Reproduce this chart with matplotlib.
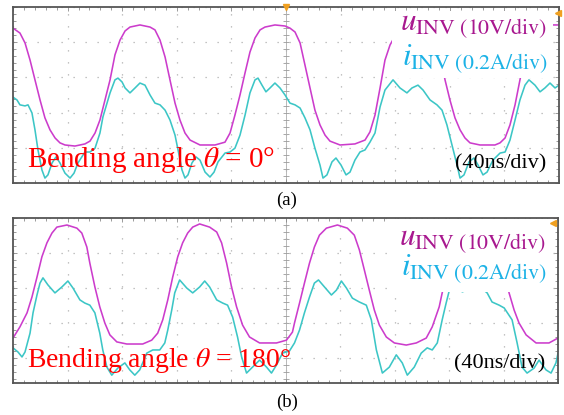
import numpy as np
import matplotlib
matplotlib.use("Agg")
import matplotlib.pyplot as plt
from matplotlib.patches import Rectangle
from matplotlib.ticker import MultipleLocator

# time in ns (40 ns/div), amplitude in screen divisions
# (a) bending angle 0 deg
t_u_a = [0, 5.1, 8.8, 12.5, 16.1, 19.8, 23.4, 27.1, 30.8, 34.4, 38.1, 45.4, 52.7, 56.4, 60.1, 63.7,
         67.4, 71.1, 74.7, 78.4, 82.1, 85.7, 93.0, 100.4, 104.0, 107.7, 111.4, 115.0, 118.7, 122.3,
         126.0, 129.7, 137.0, 148.0, 155.3, 159.0, 162.6, 166.3, 170.0, 173.6, 177.3, 181.0, 184.6,
         191.9, 199.3, 202.9, 206.6, 210.3, 213.9, 217.6, 221.2, 224.9, 228.6, 232.2, 239.6, 250.5,
         257.9, 261.5, 265.2, 268.9, 272.5, 276.2, 283.5, 296.7, 309.2, 312.8, 316.5, 320.1, 323.8,
         327.5, 331.1, 334.8, 342.1, 353.1, 356.8, 360.5, 364.1, 367.8, 371.4, 375.1, 378.8, 386.1,
         393.4, 400]
u_a = [4.40, 4.26, 3.98, 3.49, 2.93, 2.36, 1.85, 1.51, 1.28, 1.14, 1.08, 1.05, 1.11, 1.19, 1.42, 1.79,
       2.36, 2.93, 3.64, 4.06, 4.32, 4.43, 4.49, 4.43, 4.35, 4.06, 3.58, 2.93, 2.27, 1.79,
       1.42, 1.22, 1.08, 1.08, 1.16, 1.42, 1.93, 2.50, 3.13, 3.72, 4.12, 4.35, 4.43,
       4.49, 4.46, 4.40, 4.29, 3.98, 3.35, 2.70, 2.07, 1.65, 1.36, 1.19, 1.08, 1.11,
       1.22, 1.45, 1.93, 2.70, 3.49, 3.92, 4.43, 4.49, 4.35, 3.64, 2.93, 2.36, 1.85,
       1.51, 1.28, 1.14, 1.08, 1.08, 1.14, 1.28, 1.65, 2.22, 2.93, 3.64, 4.12, 4.43,
       4.49, 4.49]
t_i_a = [0, 2.9, 5.1, 8.8, 11.0, 13.9, 16.1, 18.3, 21.2, 23.4, 25.6, 28.6, 31.5, 34.4, 38.1, 41.8,
         44.7, 47.6, 52.7, 56.4, 60.1, 63.7, 65.9, 71.1, 74.7, 76.9, 79.9, 82.1, 85.7, 89.4, 93.0,
         96.7, 100.4, 104.0, 107.7, 111.4, 115.0, 118.7, 120.9, 123.8, 126.0, 128.2, 131.1, 134.1,
         137.0, 140.7, 144.3, 147.3, 150.2, 155.3, 159.0, 162.6, 166.3, 170.0, 173.6, 177.3, 179.5,
         182.4, 185.3, 188.3, 191.9, 195.6, 199.3, 202.9, 206.6, 210.3, 213.9, 217.6, 221.2, 224.9,
         227.1, 230.0, 233.7, 236.6, 240.3, 244.0, 246.9, 250.5, 254.2, 257.9, 261.5, 265.2, 268.9,
         272.5, 278.4, 283.5, 288.6, 292.3, 296.7, 300.4, 305.5, 310.6, 314.3, 317.9, 321.6, 325.3,
         327.5, 330.4, 334.1, 337.7, 340.7, 344.3, 347.3, 351.6, 356.8, 360.5, 364.1, 367.8, 371.4,
         375.1, 378.0, 382.4, 386.1, 389.7, 393.4, 397.1, 400]
i_a = [2.44, 2.36, 2.22, 2.19, 2.22, 1.99, 1.51, 0.94, 0.37, 0.14, 0.23, 0.57, 0.74, 0.57, 0.28, 0.14,
       0.28, 0.57, 0.88, 0.88, 0.99, 1.42, 1.88, 2.56, 2.93, 2.98, 2.87, 2.70, 2.56, 2.70, 2.84,
       2.78, 2.50, 2.27, 2.22, 2.07, 1.79, 1.36, 0.94, 0.37, 0.14, 0.23, 0.57, 0.74,
       0.65, 0.31, 0.17, 0.31, 0.60, 0.85, 0.88, 0.99, 1.36, 1.93, 2.56, 2.93, 2.98,
       2.78, 2.59, 2.70, 2.84, 2.70, 2.50, 2.27, 2.22, 2.13, 1.85, 1.51, 0.99, 0.51,
       0.14, 0.23, 0.60, 0.71, 0.51, 0.23, 0.31, 0.65, 0.88, 0.94, 1.16, 1.42, 2.16,
       2.64, 2.93, 2.70, 2.56, 2.70, 2.78, 2.64, 2.36, 2.22, 2.07, 1.65, 1.08, 0.51,
       0.14, 0.23, 0.60, 0.71, 0.51, 0.23, 0.31, 0.65, 0.85, 0.88, 1.22, 1.79, 2.36,
       2.78, 2.93, 2.78, 2.59, 2.70, 2.84, 2.70, 2.78]

# (b) bending angle 180 deg
t_u_b = [0, 5.1, 10.3, 13.9, 17.6, 21.2, 24.9, 28.6, 32.2, 39.6, 46.9, 50.5, 54.2, 56.4, 60.1, 63.7,
         67.4, 71.1, 76.2, 83.5, 95.2, 101.8, 106.2, 109.9, 113.6, 117.2, 120.9, 124.5, 128.2, 131.9,
         137.0, 144.3, 149.5, 153.1, 156.8, 160.4, 164.1, 168.5, 173.6, 181.0, 193.4, 200.7, 205.1,
         206.6, 210.3, 213.9, 217.6, 221.2, 224.9, 230.0, 238.1, 245.4, 250.5, 254.2, 257.9, 261.5,
         265.2, 268.9, 274.0, 279.9, 288.6, 296.0, 303.3, 307.7, 312.8, 315.0, 318.7, 323.8, 331.1,
         339.9, 349.4, 356.8, 360.5, 364.1, 367.8, 371.4, 376.6, 383.9, 393.4, 400]
u_b = [1.57, 1.89, 2.29, 2.74, 3.31, 3.89, 4.29, 4.57, 4.74, 4.80, 4.71, 4.57, 4.17, 3.71, 3.03, 2.46,
       2.00, 1.66, 1.46, 1.40, 1.40, 1.51, 1.71, 2.09, 2.66, 3.31, 3.89, 4.29, 4.57, 4.74,
       4.83, 4.74, 4.60, 4.29, 3.71, 3.03, 2.46, 1.94, 1.60, 1.43, 1.43, 1.51, 1.74,
       2.00, 2.57, 3.14, 3.71, 4.17, 4.51, 4.71, 4.80, 4.71, 4.51, 4.09, 3.51, 2.94,
       2.37, 1.94, 1.60, 1.43, 1.37, 1.43, 1.57, 1.89, 2.46, 2.86, 3.51, 4.23, 4.71,
       4.83, 4.66, 4.09, 3.37, 2.86, 2.37, 2.00, 1.66, 1.43, 1.43, 1.57]
t_i_b = [0, 3.7, 6.6, 8.8, 12.5, 14.7, 17.6, 19.8, 22.0, 25.6, 30.8, 35.9, 40.3, 44.0, 49.1, 52.7,
         56.4, 60.1, 63.7, 65.9, 68.9, 72.5, 76.9, 82.1, 85.7, 89.4, 93.0, 98.2, 102.6, 107.7, 111.4,
         113.6, 116.5, 118.7, 122.3, 127.5, 131.9, 137.0, 140.7, 144.3, 149.5, 153.9, 157.5, 161.2,
         164.8, 167.8, 171.4, 175.8, 181.0, 186.1, 189.7, 193.4, 197.8, 202.9, 206.6, 210.3, 213.9,
         217.6, 221.2, 224.2, 228.6, 233.7, 237.4, 241.0, 244.7, 249.1, 254.2, 259.3, 263.0, 266.7,
         271.1, 276.2, 281.3, 285.7, 289.4, 294.5, 299.6, 304.0, 307.7, 311.4, 315.0, 317.9, 321.6,
         326.0, 329.7, 333.4, 338.5, 343.6, 348.0, 351.6, 356.8, 360.5, 366.3, 370.0, 373.6, 377.3,
         382.4, 386.1, 391.2, 394.9, 398.5, 400]
i_b = [1.29, 1.17, 1.03, 1.17, 1.71, 2.29, 2.80, 3.14, 3.29, 3.09, 2.86, 3.03, 3.20, 3.00, 2.66, 2.57,
       2.51, 2.29, 1.71, 1.23, 0.74, 0.51, 0.71, 0.86, 0.66, 0.51, 0.66, 1.14, 1.23, 1.23, 1.43,
       1.80, 2.37, 2.86, 3.23, 3.00, 2.86, 3.03, 3.20, 3.03, 2.66, 2.57, 2.51, 2.17,
       1.60, 1.03, 0.57, 0.74, 0.94, 0.74, 0.57, 0.80, 1.14, 1.20, 1.43, 1.80, 2.29,
       2.74, 3.14, 3.23, 3.03, 2.80, 2.94, 3.20, 3.00, 2.71, 2.60, 2.51, 2.09, 1.23,
       0.57, 0.74, 1.09, 0.86, 0.51, 0.74, 1.14, 1.29, 1.23, 1.43, 2.09, 2.57, 3.14,
       3.17, 2.89, 2.94, 3.14, 3.00, 2.86, 2.60, 2.51, 2.43, 2.09, 1.43, 0.74, 0.57,
       0.71, 0.94, 0.66, 0.57, 0.86, 1.14]

angles = ["0°", "180°"]

plt.rcParams.update({
    'font.family': ['Liberation Serif', 'DejaVu Serif'],
    'mathtext.fontset': 'stix',
})

C_U = "#CC3CCC"
C_I = "#3CC6C6"
C_UTXT = "#A8188F"
C_ITXT = "#1CB2E6"

fig = plt.figure(figsize=(5.64, 4.15), dpi=100)
W, H = 564, 415


def scope(ax, ylo):
    ax.set_xlim(0, 400)
    ax.set_ylim(ylo, 5)
    ax.xaxis.set_major_locator(MultipleLocator(40))
    ax.xaxis.set_minor_locator(MultipleLocator(8))
    ax.yaxis.set_major_locator(MultipleLocator(1))
    ax.yaxis.set_minor_locator(MultipleLocator(0.2))
    ax.tick_params(which='both', direction='in', top=True, right=True,
                   labelbottom=False, labelleft=False, color='#8a8a8a', width=0.6)
    ax.tick_params(which='major', length=3)
    ax.tick_params(which='minor', length=2)
    for s in ax.spines.values():
        s.set_color('#555555')
        s.set_linewidth(1.3)
    ax.grid(True, which='major', color='#b0b0b0', linewidth=0.9,
            linestyle=(0, (1, 8.6)))
    ax.axvline(200, color='#b8b8b8', linewidth=0.7, zorder=1)
    yt = np.arange(np.ceil(ylo / 0.2) * 0.2, 5, 0.2)
    ax.plot(np.full_like(yt, 200), yt, ls='none', marker='_', ms=4,
            mew=0.6, color='#9a9a9a', zorder=1)


def panel(rect, ylo, tu, u, ti, i, ang, box, ybl, txt_y, ang_y, ang_fs):
    ax = fig.add_axes(rect)
    scope(ax, ylo)
    ax.plot(tu, u, color=C_U, linewidth=1.15, zorder=2)
    ax.plot(ti, i, color=C_I, linewidth=1.15, zorder=2)
    ax.add_patch(Rectangle((box[0], box[1]), box[2] - box[0], box[3] - box[1],
                           facecolor='white', edgecolor='none', zorder=3))
    ax.text(283.5, ybl[0], r'$u_{\mathrm{INV\ (10V/div)}}$', color=C_UTXT,
            fontsize=22.5, ha='left', va='baseline', zorder=4)
    ax.text(285.0, ybl[1], r'$i_{\mathrm{INV\ (0.2A/div)}}$', color=C_ITXT,
            fontsize=22.5, ha='left', va='baseline', zorder=4)
    ax.text(324, txt_y, '(40ns/div)', color='black', fontsize=16,
            ha='left', va='baseline', zorder=4)
    ax.text(10.3, ang_y, r'Bending angle $\theta$ = ' + ang, color='#FF0000',
            fontsize=ang_fs, ha='left', va='baseline', zorder=4)
    return ax


ax_a = panel([13 / W, 1 - 183 / H, 546 / W, 176 / H], 0, t_u_a, u_a, t_i_a, i_a,
             angles[0], (277.7, 2.98, 395.6, 4.9), (4.35, 3.35), 0.40, 0.45, 21)
ax_b = panel([13 / W, 1 - 383 / H, 545 / W, 165 / H], 0.286, t_u_b, u_b, t_i_b, i_b,
             angles[1], (279.9, 2.90, 395.6, 4.97), (4.23, 3.37), 0.71, 0.74, 20)

# trigger / level markers
ax_a.plot([200], [5], marker='v', ms=4, color='#F0A020', clip_on=False, zorder=5)
ax_a.plot([399], [4.83], marker='<', ms=4, color='#F0A020', clip_on=False, zorder=5)
ax_b.plot([396], [4.86], marker='<', ms=4, color='#F0A020', clip_on=False, zorder=5)

fig.text(287 / W, 1 - 200 / H, '(a)', fontsize=13.5, ha='center', va='center')
fig.text(287 / W, 1 - 402 / H, '(b)', fontsize=13.5, ha='center', va='center')

fig.savefig('out.png', dpi=100, facecolor='white')
